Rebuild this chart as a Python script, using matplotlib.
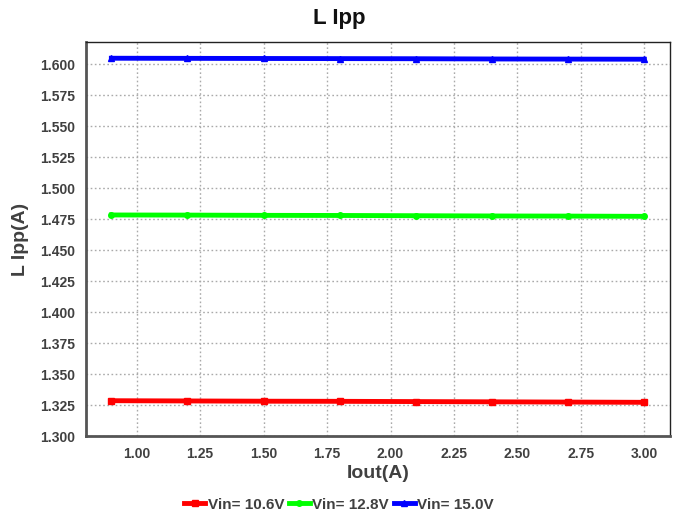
import matplotlib.pyplot as plt

plt.rcParams['font.family'] = ['Liberation Sans', 'DejaVu Sans']

# Data
iout = [0.9, 1.2, 1.5, 1.8, 2.1, 2.4, 2.7, 3.0]
vin_106 = [1.3285, 1.3283, 1.3281, 1.3280, 1.3278, 1.3276, 1.3274, 1.3272]
vin_128 = [1.4784, 1.4783, 1.4781, 1.4780, 1.4778, 1.4776, 1.4775, 1.4773]
vin_150 = [1.6049, 1.6048, 1.6047, 1.6046, 1.6045, 1.6043, 1.6042, 1.6041]

xticks = [1.00, 1.25, 1.50, 1.75, 2.00, 2.25, 2.50, 2.75, 3.00]
yticks = [1.300 + 0.025 * i for i in range(13)]

fig = plt.figure(figsize=(6.78, 5.16), dpi=100)
ax = fig.add_axes([0.1268, 0.155, 0.861, 0.7636])

ax.plot(iout, vin_106, color='#ff0000', lw=3.5, marker='s', ms=4, label='Vin= 10.6V')
ax.plot(iout, vin_128, color='#00ff00', lw=3.5, marker='o', ms=4, label='Vin= 12.8V')
ax.plot(iout, vin_150, color='#0000ff', lw=3.5, marker='^', ms=4, label='Vin= 15.0V')

ax.set_xlim(0.8, 3.1)
ax.set_ylim(1.30, 1.618)
ax.set_xticks(xticks)
ax.set_xticklabels([f'{v:.2f}' for v in xticks])
ax.set_yticks(yticks)
ax.set_yticklabels([f'{v:.3f}' for v in yticks])
ax.tick_params(length=0, labelsize=10, labelcolor='#404040', pad=8)
for lab in ax.get_xticklabels() + ax.get_yticklabels():
    lab.set_fontweight('bold')

ax.grid(True, color='#aaaaaa', linestyle=(0, (1.2, 1.8)), linewidth=1.0)
ax.set_axisbelow(True)

for side in ['left', 'bottom']:
    ax.spines[side].set_linewidth(2)
    ax.spines[side].set_color('#555555')
for side in ['right', 'top']:
    ax.spines[side].set_linewidth(1)
    ax.spines[side].set_color('#222222')

fig.suptitle('L Ipp', y=0.985, fontsize=16, fontweight='bold', color='#111111')
ax.set_xlabel('Iout(A)', fontsize=14, fontweight='bold', color='#404040', labelpad=3)
ax.set_ylabel('L Ipp(A)', fontsize=14, fontweight='bold', color='#404040', labelpad=8)

leg = fig.legend(loc='lower center', bbox_to_anchor=(0.5, -0.018), ncol=3, frameon=False,
                 prop={'weight': 'bold', 'size': 11}, handlelength=1.4, handletextpad=0.15,
                 columnspacing=0.3)
for t in leg.get_texts():
    t.set_color('#404040')

fig.savefig('out.png', dpi=100)
